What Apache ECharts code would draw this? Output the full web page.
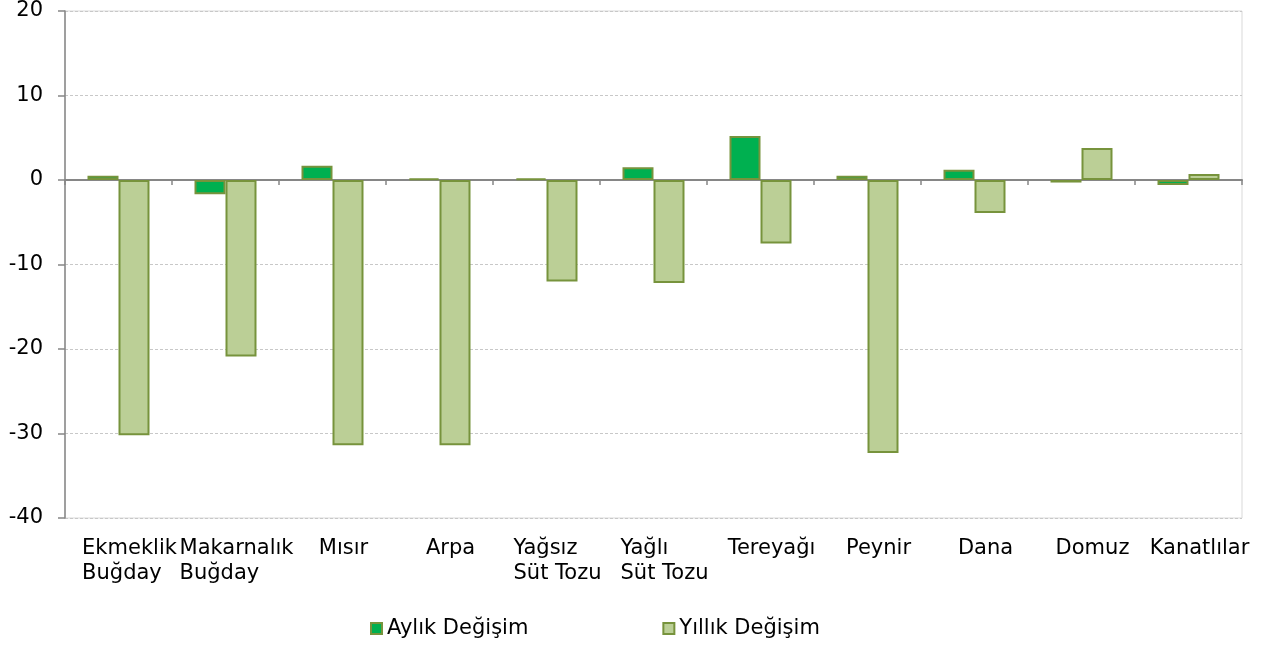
<!DOCTYPE html>
<html>
<head>
<meta charset="utf-8">
<script src="https://cdn.jsdelivr.net/npm/echarts@6/dist/echarts.min.js"></script>
<style>
  html, body { margin: 0; padding: 0; background: #fff; }
  #chart { width: 1279px; height: 646px; }
</style>
</head>
<body>
<div id="chart"></div>
<script>
const categories = ['Ekmeklik\nBuğday', 'Makarnalık\nBuğday', 'Mısır', 'Arpa', 'Yağsız\nSüt Tozu',
  'Yağlı\nSüt Tozu', 'Tereyağı', 'Peynir', 'Dana', 'Domuz', 'Kanatlılar']
const monthlyName = 'Aylık Değişim'
const yearlyName = 'Yıllık Değişim'
const monthly = [0.5, -1.7, 1.7, 0.2, 0.2, 1.5, 5.2, 0.5, 1.2, -0.3, -0.6]
const yearly = [-30.2, -20.9, -31.4, -31.4, -12.0, -12.2, -7.5, -32.3, -3.9, 3.8, 0.7]

const font = 'DejaVu Sans, Verdana, sans-serif'
const chart = echarts.init(document.getElementById('chart'))

chart.setOption({
  animation: false,
  textStyle: { fontFamily: font, color: '#000' },
  grid: {
    left: 65, right: 37, top: 11, bottom: 128,
    show: true, borderColor: '#d9d9d9', borderWidth: 1
  },
  legend: {
    left: 365,
    top: 613,
    itemWidth: 11,
    itemHeight: 11,
    itemGap: 134,
    icon: 'rect',
    textStyle: { fontFamily: font, fontSize: 21, color: '#000' },
    data: [monthlyName, yearlyName]
  },
  xAxis: [
    {
      type: 'category',
      data: categories,
      position: 'bottom',
      axisLine: { onZero: true, lineStyle: { color: '#868686', width: 2 } },
      axisTick: { show: true, length: 5, lineStyle: { color: '#868686', width: 1.5 } },
      axisLabel: { show: false },
      splitLine: { show: false }
    },
    {
      // second axis only carries the labels at the bottom of the plot
      type: 'category',
      data: categories,
      position: 'bottom',
      axisLine: { show: false, onZero: false },
      axisTick: { show: false },
      axisLabel: {
        margin: 18,
        interval: 0,
        verticalAlign: 'top',
        padding: [0, 0, 0, 22],
        formatter: value => value.split('\n').map(line => '{a|' + line + '}').join('\n'),
        rich: {
          a: { fontFamily: font, fontSize: 21, lineHeight: 25, color: '#000', align: 'left' }
        }
      }
    }
  ],
  yAxis: {
    type: 'value',
    min: -40,
    max: 20,
    interval: 10,
    axisLine: { show: true, lineStyle: { color: '#868686', width: 1.5 } },
    axisTick: { show: true, length: 7, lineStyle: { color: '#868686', width: 1.5 } },
    axisLabel: { margin: 22, fontFamily: font, fontSize: 21, color: '#000' },
    splitLine: { show: true, lineStyle: { color: '#c8c8c8', type: [3, 2], width: 1 } }
  },
  series: [
    {
      name: monthlyName,
      type: 'bar',
      data: monthly,
      barWidth: 31,
      barGap: '0%',
      itemStyle: { color: '#00b050', borderColor: '#77933c', borderWidth: 2 }
    },
    {
      name: yearlyName,
      type: 'bar',
      data: yearly,
      barWidth: 31,
      barGap: '0%',
      itemStyle: { color: '#bbcf96', borderColor: '#77933c', borderWidth: 2 }
    }
  ]
})
</script>
</body>
</html>
